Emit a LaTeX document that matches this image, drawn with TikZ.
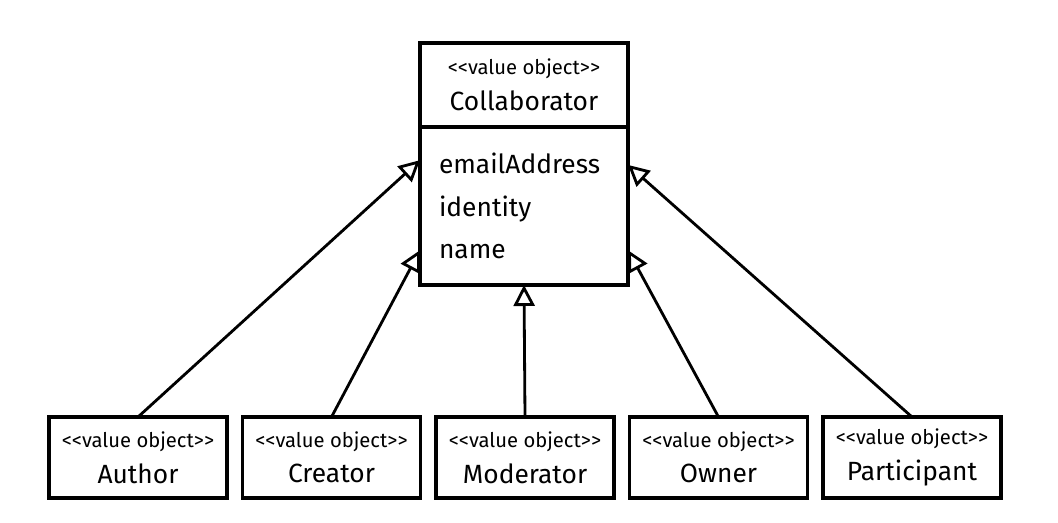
\documentclass[tikz,border=0pt]{standalone}
\usepackage{fontspec}
\setmainfont{Fira Sans}
\usetikzlibrary{positioning,calc,arrows.meta}

\newcommand{\stereotxt}{{\fontsize{11.5}{13}\selectfont {<}{<}value object{>}{>}}}
\newcommand{\valueobj}[1]{\stereotxt\\[0.2cm]{\fontsize{15}{17}\selectfont #1}}

\tikzset{
  umlbox/.style={draw, line width=2.2pt, outer sep=0pt, inner sep=0pt,
                 minimum width=3.56cm, minimum height=1.62cm, align=center},
  inherit/.style={draw, line width=1.6pt,
                  -{Triangle[open, length=0.42cm, width=0.42cm, line width=1.6pt]}}
}

\begin{document}
\begin{tikzpicture}
            \path[use as bounding box] (0,0) rectangle (21.16,10.44);

            \node[umlbox, minimum width=4.16cm, minimum height=1.68cm] (collab) at (10.48,8.74)
                 {\valueobj{Collaborator}};
            \node[umlbox, anchor=north, minimum width=4.16cm, minimum height=3.16cm,
                  align=left, text width=3.4cm, inner xsep=0.38cm,
                  font=\fontsize{15}{24.2}\selectfont] (attrs) at (collab.south)
                 {emailAddress\\identity\\name};

            \node[umlbox] (author) at (2.76,1.29) {\valueobj{Author}};
            \node[umlbox, right=0.31cm of author] (creator) {\valueobj{Creator}};
            \node[umlbox, right=0.31cm of creator] (moderator) {\valueobj{Moderator}};
            \node[umlbox, right=0.31cm of moderator] (owner) {\valueobj{Owner}};
            \node[umlbox, right=0.31cm of owner] (participant) {\valueobj{Participant}};

            \coordinate (lefthi) at ($(attrs.north west)!0.21!(attrs.south west)$);
            \coordinate (leftlo) at ($(attrs.north west)!0.78!(attrs.south west)$);
            \coordinate (righthi) at ($(attrs.north east)!0.24!(attrs.south east)$);
            \coordinate (rightlo) at ($(attrs.north east)!0.78!(attrs.south east)$);

            \draw[inherit] (author.north) -- (lefthi);
            \draw[inherit] (creator.north) -- (leftlo);
            \draw[inherit] (moderator.north) -- (attrs.south);
            \draw[inherit] (owner.north) -- (rightlo);
            \draw[inherit] (participant.north) -- (righthi);
        \end{tikzpicture}
\end{document}
